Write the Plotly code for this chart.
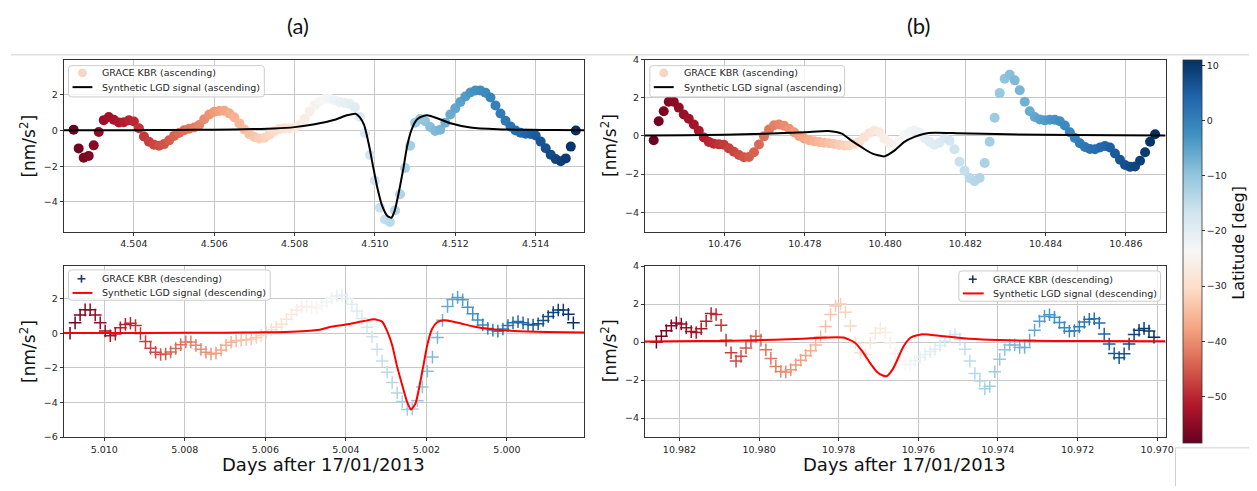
import plotly.graph_objects as go

W, H = 1257, 491

# ---------------- data ----------------
# latitude of each KBR sample (deg), ordered left->right on screen
lat = [-58.0, -57.3, -56.6, -55.9, -55.2, -54.5, -53.9, -53.2, -52.5, -51.8,
       -51.1, -50.4, -49.7, -49.0, -48.3, -47.7, -47.0, -46.3, -45.6, -44.9,
       -44.2, -43.5, -42.8, -42.1, -41.4, -40.8, -40.1, -39.4, -38.7, -38.0,
       -37.3, -36.6, -35.9, -35.2, -34.5, -33.9, -33.2, -32.5, -31.8, -31.1,
       -30.4, -29.7, -29.0, -28.3, -27.6, -27.0, -26.3, -25.6, -24.9, -24.2,
       -23.5, -22.8, -22.1, -21.4, -20.7, -20.1, -19.4, -18.7, -18.0, -17.3,
       -16.6, -15.9, -15.2, -14.5, -13.8, -13.2, -12.5, -11.8, -11.1, -10.4,
       -9.7, -9.0, -8.3, -7.6, -6.9, -6.3, -5.6, -4.9, -4.2, -3.5,
       -2.8, -2.1, -1.4, -0.7, 0.0, 0.7, 1.3, 2.0, 2.7, 3.4,
       4.1, 4.8, 5.5, 6.2, 6.9, 7.5, 8.2, 8.9, 9.6, 10.3,
       11.0]

# (a) ascending
asc_a_days = [4.502500, 4.502625, 4.502750, 4.502875, 4.503000, 4.503125, 4.503250, 4.503375, 4.503500, 4.503625,
              4.503750, 4.503875, 4.504000, 4.504125, 4.504250, 4.504375, 4.504500, 4.504625, 4.504750, 4.504875,
              4.505000, 4.505125, 4.505250, 4.505375, 4.505500, 4.505625, 4.505750, 4.505875, 4.506000, 4.506125,
              4.506250, 4.506375, 4.506500, 4.506625, 4.506750, 4.506875, 4.507000, 4.507125, 4.507250, 4.507375,
              4.507500, 4.507625, 4.507750, 4.507875, 4.508000, 4.508125, 4.508250, 4.508375, 4.508500, 4.508625,
              4.508750, 4.508875, 4.509000, 4.509125, 4.509250, 4.509375, 4.509500, 4.509625, 4.509750, 4.509875,
              4.510000, 4.510125, 4.510250, 4.510375, 4.510500, 4.510625, 4.510750, 4.510875, 4.511000, 4.511125,
              4.511250, 4.511375, 4.511500, 4.511625, 4.511750, 4.511875, 4.512000, 4.512125, 4.512250, 4.512375,
              4.512500, 4.512625, 4.512750, 4.512875, 4.513000, 4.513125, 4.513250, 4.513375, 4.513500, 4.513625,
              4.513750, 4.513875, 4.514000, 4.514125, 4.514250, 4.514375, 4.514500, 4.514625, 4.514750, 4.514875,
              4.515000]
asc_a_kbr = [0.05, -1.0, -1.52, -1.42, -0.83, -0.08, 0.58, 0.75, 0.6, 0.45,
             0.47, 0.57, 0.5, 0.13, -0.33, -0.63, -0.79, -0.85, -0.76, -0.55,
             -0.3, -0.14, 0.01, 0.1, 0.17, 0.31, 0.63, 0.9, 1.05, 1.09,
             1.1, 0.96, 0.74, 0.4, 0.06, -0.2, -0.36, -0.45, -0.4, -0.24,
             -0.04, 0.09, 0.13, 0.13, 0.17, 0.33, 0.65, 1.06, 1.42, 1.62,
             1.76, 1.78, 1.68, 1.58, 1.54, 1.48, 1.3, 0.76, -0.15, -1.37,
             -2.8, -4.32, -4.98, -5.12, -4.48, -3.57, -2.1, -0.85, 0.43, 0.64,
             0.52, 0.2, -0.03, 0.05, 0.44, 0.9, 1.24, 1.6, 1.9, 2.13,
             2.24, 2.24, 2.12, 1.85, 1.4, 0.95, 0.55, 0.22, 0.0, -0.12,
             -0.18, -0.19, -0.28, -0.62, -0.99, -1.35, -1.6, -1.72, -1.56, -0.9,
             0.0]
asc_a_lgd_days = [4.50225, 4.5030, 4.5040, 4.5050, 4.5060, 4.5070, 4.5075, 4.5080, 4.5085, 4.5090,
                  4.5093, 4.50952, 4.50962, 4.50973, 4.50985, 4.50996, 4.51006, 4.51018, 4.51031, 4.51041,
                  4.51049, 4.51060, 4.51071, 4.51080, 4.51091, 4.51105, 4.51122, 4.51130, 4.51155, 4.51188,
                  4.51238, 4.51305, 4.51388, 4.51450, 4.51521]
asc_a_lgd = [0.01, 0.01, 0.02, 0.03, 0.05, 0.08, 0.11, 0.19, 0.35, 0.6,
             0.85, 0.94, 0.75, 0.31, -0.8, -2.09, -3.2, -4.22, -4.78, -4.88,
             -4.5, -3.39, -2.09, -0.89, 0.04, 0.63, 0.83, 0.85, 0.69, 0.41,
             0.17, 0.07, 0.04, 0.03, 0.02]

# (a) descending
desc_a_days = [5.010850, 5.010725, 5.010600, 5.010475, 5.010350, 5.010225, 5.010100, 5.009975, 5.009850, 5.009725,
               5.009600, 5.009475, 5.009350, 5.009225, 5.009100, 5.008975, 5.008850, 5.008725, 5.008600, 5.008475,
               5.008350, 5.008225, 5.008100, 5.007975, 5.007850, 5.007725, 5.007600, 5.007475, 5.007350, 5.007225,
               5.007100, 5.006975, 5.006850, 5.006725, 5.006600, 5.006475, 5.006350, 5.006225, 5.006100, 5.005975,
               5.005850, 5.005725, 5.005600, 5.005475, 5.005350, 5.005225, 5.005100, 5.004975, 5.004850, 5.004725,
               5.004600, 5.004475, 5.004350, 5.004225, 5.004100, 5.003975, 5.003850, 5.003725, 5.003600, 5.003475,
               5.003350, 5.003225, 5.003100, 5.002975, 5.002850, 5.002725, 5.002600, 5.002475, 5.002350, 5.002225,
               5.002100, 5.001975, 5.001850, 5.001725, 5.001600, 5.001475, 5.001350, 5.001225, 5.001100, 5.000975,
               5.000850, 5.000725, 5.000600, 5.000475, 5.000350, 5.000225, 5.000100, 4.999975, 4.999850, 4.999725,
               4.999600, 4.999475, 4.999350, 4.999225, 4.999100, 4.998975, 4.998850, 4.998725, 4.998600, 4.998475,
               4.998350]
desc_a_kbr = [0.0, 0.6, 1.05, 1.35, 1.36, 1.05, 0.6, 0.13, -0.15, -0.05,
              0.32, 0.51, 0.58, 0.45, -0.02, -0.48, -0.87, -1.1, -1.23, -1.2,
              -1.08, -0.88, -0.66, -0.5, -0.5, -0.7, -0.93, -1.1, -1.2, -1.15,
              -0.97, -0.7, -0.52, -0.44, -0.41, -0.38, -0.33, -0.25, -0.13, 0.05,
              0.2, 0.35, 0.52, 0.8, 1.08, 1.32, 1.51, 1.55, 1.5, 1.45,
              1.6, 1.8, 2.02, 2.15, 2.2, 2.0, 1.68, 1.28, 0.85, 0.35,
              -0.2, -0.93, -1.6, -2.25, -2.85, -3.45, -3.95, -4.4, -4.38, -3.9,
              -3.1, -2.2, -1.38, -0.25, 0.75, 1.55, 1.95, 2.07, 1.93, 1.5,
              1.12, 0.77, 0.48, 0.28, 0.18, 0.12, 0.24, 0.45, 0.6, 0.67,
              0.6, 0.5, 0.47, 0.55, 0.74, 0.97, 1.2, 1.34, 1.34, 1.1,
              0.6]
desc_a_lgd_days = [5.01101, 5.0090, 5.0070, 5.0060, 5.0055, 5.0052, 5.00465, 5.0044, 5.0040, 5.00355,
                   5.0033, 5.0031, 5.00298, 5.00285, 5.00273, 5.0026, 5.00248, 5.00238, 5.00227, 5.00217,
                   5.00207, 5.00197, 5.00186, 5.00174, 5.00157, 5.00124, 5.00083, 5.00041, 4.99983, 4.99901,
                   4.99808]
desc_a_lgd = [0.02, 0.02, 0.03, 0.05, 0.07, 0.1, 0.2, 0.36, 0.5, 0.7,
              0.8, 0.67, 0.15, -0.69, -1.9, -3.0, -3.96, -4.4, -4.05, -3.03,
              -1.81, -0.6, 0.24, 0.62, 0.75, 0.62, 0.39, 0.24, 0.13, 0.07,
              0.04]

# (b) ascending
asc_b_days = [10.474230, 10.474355, 10.474480, 10.474605, 10.474730, 10.474855, 10.474980, 10.475105, 10.475230, 10.475355,
              10.475480, 10.475605, 10.475730, 10.475855, 10.475980, 10.476105, 10.476230, 10.476355, 10.476480, 10.476605,
              10.476730, 10.476855, 10.476980, 10.477105, 10.477230, 10.477355, 10.477480, 10.477605, 10.477730, 10.477855,
              10.477980, 10.478105, 10.478230, 10.478355, 10.478480, 10.478605, 10.478730, 10.478855, 10.478980, 10.479105,
              10.479230, 10.479355, 10.479480, 10.479605, 10.479730, 10.479855, 10.479980, 10.480105, 10.480230, 10.480355,
              10.480480, 10.480605, 10.480730, 10.480855, 10.480980, 10.481105, 10.481230, 10.481355, 10.481480, 10.481605,
              10.481730, 10.481855, 10.481980, 10.482105, 10.482230, 10.482355, 10.482480, 10.482605, 10.482730, 10.482855,
              10.482980, 10.483105, 10.483230, 10.483355, 10.483480, 10.483605, 10.483730, 10.483855, 10.483980, 10.484105,
              10.484230, 10.484355, 10.484480, 10.484605, 10.484730, 10.484855, 10.484980, 10.485105, 10.485230, 10.485355,
              10.485480, 10.485605, 10.485730, 10.485855, 10.485980, 10.486105, 10.486230, 10.486355, 10.486480, 10.486605,
              10.486730]
asc_b_kbr = [-0.22, 0.77, 1.3, 1.8, 1.8, 1.49, 1.13, 0.9, 0.6, 0.27,
             -0.08, -0.31, -0.41, -0.44, -0.46, -0.65, -0.83, -1.0, -1.12, -1.1,
             -0.85, -0.45, -0.02, 0.34, 0.56, 0.6, 0.54, 0.38, 0.2, 0.0,
             -0.13, -0.22, -0.27, -0.31, -0.35, -0.38, -0.42, -0.47, -0.5, -0.5,
             -0.42, -0.3, -0.07, 0.15, 0.27, 0.2, -0.15, -0.38, -0.5, -0.25,
             0.05, 0.2, 0.29, 0.18, -0.1, -0.3, -0.46, -0.35, -0.12, -0.25,
             -0.7, -1.35, -1.82, -2.2, -2.37, -2.2, -1.42, -0.3, 0.96, 2.25,
             3.0, 3.22, 2.92, 2.4, 1.8, 1.3, 1.0, 0.87, 0.82, 0.85,
             0.85, 0.77, 0.55, 0.2, -0.1, -0.38, -0.58, -0.68, -0.69, -0.6,
             -0.52, -0.6, -0.92, -1.25, -1.52, -1.62, -1.6, -1.3, -0.85, -0.3,
             0.09]
asc_b_lgd_days = [10.47401, 10.4750, 10.4760, 10.4770, 10.4780, 10.47859, 10.47892, 10.47917, 10.47942, 10.47967,
                  10.47998, 10.48023, 10.48048, 10.48073, 10.48098, 10.48123, 10.4818, 10.48305, 10.4847, 10.48699]
asc_b_lgd = [0.02, 0.04, 0.07, 0.12, 0.2, 0.26, 0.12, -0.26, -0.6, -0.91,
             -1.07, -0.77, -0.31, -0.05, 0.12, 0.17, 0.15, 0.09, 0.05, 0.02]

# (b) descending
desc_b_days = [10.982580, 10.982455, 10.982330, 10.982205, 10.982080, 10.981955, 10.981830, 10.981705, 10.981580, 10.981455,
               10.981330, 10.981205, 10.981080, 10.980955, 10.980830, 10.980705, 10.980580, 10.980455, 10.980330, 10.980205,
               10.980080, 10.979955, 10.979830, 10.979705, 10.979580, 10.979455, 10.979330, 10.979205, 10.979080, 10.978955,
               10.978830, 10.978705, 10.978580, 10.978455, 10.978330, 10.978205, 10.978080, 10.977955, 10.977830, 10.977705,
               10.977580, 10.977455, 10.977330, 10.977205, 10.977080, 10.976955, 10.976830, 10.976705, 10.976580, 10.976455,
               10.976330, 10.976205, 10.976080, 10.975955, 10.975830, 10.975705, 10.975580, 10.975455, 10.975330, 10.975205,
               10.975080, 10.974955, 10.974830, 10.974705, 10.974580, 10.974455, 10.974330, 10.974205, 10.974080, 10.973955,
               10.973830, 10.973705, 10.973580, 10.973455, 10.973330, 10.973205, 10.973080, 10.972955, 10.972830, 10.972705,
               10.972580, 10.972455, 10.972330, 10.972205, 10.972080, 10.971955, 10.971830, 10.971705, 10.971580, 10.971455,
               10.971330, 10.971205, 10.971080, 10.970955, 10.970830, 10.970705, 10.970580, 10.970455, 10.970330, 10.970205,
               10.970080]
desc_b_kbr = [0.0, 0.3, 0.6, 0.86, 1.01, 0.95, 0.76, 0.55, 0.5, 0.7,
              1.1, 1.5, 1.45, 0.88, 0.1, -0.56, -1.0, -0.75, -0.31, 0.05,
              0.3, 0.1, -0.4, -0.86, -1.28, -1.55, -1.57, -1.45, -1.2, -0.95,
              -0.7, -0.45, -0.15, 0.28, 0.82, 1.45, 1.9, 2.0, 1.57, 0.85,
              -0.05, -0.56, -0.65, -0.05, 0.46, 0.72, 0.5, -0.05, -0.6, -1.0,
              -1.18, -1.17, -0.98, -0.8, -0.66, -0.5, -0.38, -0.18, 0.06, 0.3,
              0.4, 0.15, -0.38, -1.0, -1.65, -2.05, -2.46, -2.33, -1.56, -0.9,
              -0.4, -0.15, -0.15, -0.28, -0.28, 0.1, 0.62, 1.1, 1.35, 1.44,
              1.3, 1.03, 0.76, 0.57, 0.6, 0.8, 1.05, 1.2, 1.23, 1.0,
              0.42, -0.1, -0.6, -0.82, -0.62, -0.1, 0.4, 0.62, 0.72, 0.58,
              0.25]
desc_b_lgd_days = [10.98287, 10.9815, 10.98033, 10.97891, 10.97807, 10.97788, 10.9776, 10.97741, 10.97722, 10.97703,
                   10.97689, 10.9768, 10.97665, 10.97656, 10.97637, 10.97619, 10.9759, 10.97543, 10.97487, 10.97421,
                   10.97327, 10.97186, 10.96979]
desc_b_lgd = [0.03, 0.05, 0.08, 0.18, 0.26, 0.24, -0.02, -0.48, -1.08, -1.59,
              -1.76, -1.8, -1.45, -1.08, -0.22, 0.24, 0.41, 0.32, 0.2, 0.12,
              0.07, 0.05, 0.04]

ticks_a_asc = [4.504, 4.506, 4.508, 4.510, 4.512, 4.514]
ticks_a_desc = [5.010, 5.008, 5.006, 5.004, 5.002, 5.000]
ticks_b_asc = [10.476, 10.478, 10.480, 10.482, 10.484, 10.486]
ticks_b_desc = [10.982, 10.980, 10.978, 10.976, 10.974, 10.972, 10.970]
lat_ticks = [-50, -40, -30, -20, -10, 0, 10]

name_kbr_asc = 'GRACE KBR (ascending)'
name_lgd_asc = 'Synthetic LGD signal (ascending)'
name_kbr_desc = 'GRACE KBR (descending)'
name_lgd_desc = 'Synthetic LGD signal (descending)'

# ---------------- styling ----------------
RDBU = [[0.0, '#67001f'], [0.1, '#b2182b'], [0.2, '#d6604d'], [0.3, '#f4a582'],
        [0.4, '#fddbc7'], [0.5, '#f7f7f7'], [0.6, '#d1e5f0'], [0.7, '#92c5de'],
        [0.8, '#4393c3'], [0.9, '#2166ac'], [1.0, '#053061']]
CMIN, CMAX = -58.4, 11.0
FONT = 'DejaVu Sans'
TXT = '#262626'
RED = '#ff0000'


def fx(p):
    return p / W


def fy(p):
    return 1 - p / H


fig = go.Figure()

CB = dict(x=fx(1191), xanchor='left', xpad=0, y=fy(55), yanchor='top', ypad=0,
          len=383, lenmode='pixels', thickness=19, thicknessmode='pixels',
          outlinecolor='#333333', outlinewidth=0.8, ticks='outside', ticklen=3,
          tickcolor='#333333', tickvals=lat_ticks,
          tickfont=dict(family=FONT, size=9.5, color=TXT))


def circles(x, y, xa, ya, scale):
    m = dict(symbol='circle', size=10, color=lat, colorscale=RDBU, cmin=CMIN, cmax=CMAX,
             line=dict(width=0), showscale=scale)
    if scale:
        m['colorbar'] = CB
    return go.Scatter(x=x, y=y, xaxis=xa, yaxis=ya, mode='markers', marker=m,
                      showlegend=False, hoverinfo='skip')


def crosses(x, y, xa, ya):
    m = dict(symbol='cross-thin-open', size=9, color=lat, colorscale=RDBU, cmin=CMIN, cmax=CMAX,
             line=dict(width=1.5, color=lat, colorscale=RDBU, cmin=CMIN, cmax=CMAX))
    return go.Scatter(x=x, y=y, xaxis=xa, yaxis=ya, mode='markers', marker=m,
                      showlegend=False, hoverinfo='skip')


def model(x, y, xa, ya, color):
    return go.Scatter(x=x, y=y, xaxis=xa, yaxis=ya, mode='lines', showlegend=False,
                      line=dict(color=color, width=2, shape='spline', smoothing=0.6),
                      hoverinfo='skip')


fig.add_trace(circles(asc_a_days, asc_a_kbr, 'x', 'y', True))
fig.add_trace(model(asc_a_lgd_days, asc_a_lgd, 'x', 'y', 'black'))
fig.add_trace(circles(asc_b_days, asc_b_kbr, 'x2', 'y2', False))
fig.add_trace(model(asc_b_lgd_days, asc_b_lgd, 'x2', 'y2', 'black'))
fig.add_trace(crosses(desc_a_days, desc_a_kbr, 'x3', 'y3'))
fig.add_trace(model(desc_a_lgd_days, desc_a_lgd, 'x3', 'y3', RED))
fig.add_trace(crosses(desc_b_days, desc_b_kbr, 'x4', 'y4'))
fig.add_trace(model(desc_b_lgd_days, desc_b_lgd, 'x4', 'y4', RED))

AX = dict(showgrid=True, gridcolor='#c8c8c8', gridwidth=1, showline=True, linecolor='#333333',
          linewidth=1, mirror=True, ticks='outside', ticklen=3, tickcolor='#333333',
          tickfont=dict(family=FONT, size=9.5, color=TXT), zeroline=False)

LX = [fx(64), fx(588)]
RX = [fx(649), fx(1173)]
TY = [fy(231), fy(55)]
BY = [fy(441), fy(266)]


def xax(dom, anchor, rng, tv):
    return dict(AX, domain=dom, anchor=anchor, range=rng, tickvals=tv,
                ticktext=['%.3f' % v for v in tv])


def yax(dom, anchor, rng, tv):
    return dict(AX, domain=dom, anchor=anchor, range=rng, tickvals=tv)


ann = []
shapes = []


def txt(x, y, s, size, angle=0, anchor='center', family=FONT, color='#111111'):
    ann.append(dict(x=fx(x), y=fy(y), xref='paper', yref='paper', text=s, textangle=angle,
                    showarrow=False, xanchor=anchor, yanchor='middle',
                    font=dict(family=family, size=size, color=color)))


def pline(x0, y0, x1, y1, color, width):
    shapes.append(dict(type='line', xref='paper', yref='paper', x0=fx(x0), x1=fx(x1),
                       y0=fy(y0), y1=fy(y1), line=dict(color=color, width=width)))


def legend_box(x0, y0, x1, y1, r=3):
    X0, X1, Y0, Y1 = fx(x0), fx(x1), fy(y0), fy(y1)
    rx, ry = r / W, r / H
    path = ('M {a},{t} L {b},{t} Q {c},{t} {c},{t2} L {c},{b2} Q {c},{bt} {b},{bt} '
            'L {a},{bt} Q {d},{bt} {d},{b2} L {d},{t2} Q {d},{t} {a},{t} Z').format(
        a=X0 + rx, b=X1 - rx, c=X1, d=X0, t=Y0, t2=Y0 - ry, b2=Y1 + ry, bt=Y1)
    shapes.append(dict(type='path', xref='paper', yref='paper', path=path,
                       fillcolor='rgba(255,255,255,0.8)', line=dict(color='#cccccc', width=1),
                       layer='above'))


def legend_circle(cx, cy, r, color):
    shapes.append(dict(type='circle', xref='paper', yref='paper', x0=fx(cx - r), x1=fx(cx + r),
                       y0=fy(cy + r), y1=fy(cy - r), fillcolor=color, line=dict(width=0),
                       layer='above'))


def legend_cross(cx, cy, r, color):
    pline(cx - r, cy, cx + r, cy, color, 1.6)
    pline(cx, cy - r, cx, cy + r, color, 1.6)


# legends drawn as annotations/shapes to match matplotlib's compact layout
legend_box(69, 61, 266, 93)
legend_circle(83, 68.5, 4.5, '#f8d6c4')
txt(101, 68.5, name_kbr_asc, 9.5, anchor='left', color=TXT)
pline(73, 83, 93, 83, 'black', 2)
txt(101, 83, name_lgd_asc, 9.5, anchor='left', color=TXT)

legend_box(654, 61, 850, 93)
legend_circle(668, 68.5, 4.5, '#f8d6c4')
txt(686, 68.5, name_kbr_asc, 9.5, anchor='left', color=TXT)
pline(658, 83, 678, 83, 'black', 2)
txt(686, 83, name_lgd_asc, 9.5, anchor='left', color=TXT)

legend_box(69, 270, 272, 301)
legend_cross(82, 279, 4, '#1c3c6c')
txt(101, 279, name_kbr_desc, 9.5, anchor='left', color=TXT)
pline(73, 293.5, 93, 293.5, RED, 2)
txt(101, 293.5, name_lgd_desc, 9.5, anchor='left', color=TXT)

legend_box(965, 271, 1168, 302)
legend_cross(979, 279.5, 4, '#1c3c6c')
txt(997, 279.5, name_kbr_desc, 9.5, anchor='left', color=TXT)
pline(969, 294, 990, 294, RED, 2)
txt(997, 294, name_lgd_desc, 9.5, anchor='left', color=TXT)

for xc, yc in [(28, 143), (28, 353), (613, 143), (613, 353)]:
    txt(xc, yc, '[nm/s<sup>2</sup>]', 17, angle=-90)
for xc in [326, 910]:
    txt(xc, 469, 'Days after 17/01/2013', 18)
txt(300, 20, '(a)', 22, family='Lato')
txt(924, 20, '(b)', 22, family='Lato')
txt(1247, 242, 'Latitude [deg]', 16, angle=-90)

pline(11, 50, W, 50, '#d0d0d0', 1)
pline(1183, 452, W, 452, '#d0d0d0', 1)
pline(1183, 452, 1183, H, '#d0d0d0', 1)

fig.update_layout(
    width=W, height=H, margin=dict(l=0, r=0, t=0, b=0),
    paper_bgcolor='white', plot_bgcolor='white', showlegend=False,
    xaxis=xax(LX, 'y', [4.50225, 4.51521], ticks_a_asc),
    yaxis=yax(TY, 'x', [-5.67, 3.96], [-4, -2, 0, 2]),
    xaxis2=xax(RX, 'y2', [10.47401, 10.48699], ticks_b_asc),
    yaxis2=yax(TY, 'x2', [-5.03, 4.0], [-4, -2, 0, 2, 4]),
    xaxis3=xax(LX, 'y3', [5.01101, 4.99808], ticks_a_desc),
    yaxis3=yax(BY, 'x3', [-6.0, 3.88], [-6, -4, -2, 0, 2]),
    xaxis4=xax(RX, 'y4', [10.98287, 10.96979], ticks_b_desc),
    yaxis4=yax(BY, 'x4', [-5.0, 4.0], [-4, -2, 0, 2, 4]),
    annotations=ann, shapes=shapes,
    font=dict(family=FONT, color=TXT),
    hovermode=False,
)

fig.write_html('out.html')
